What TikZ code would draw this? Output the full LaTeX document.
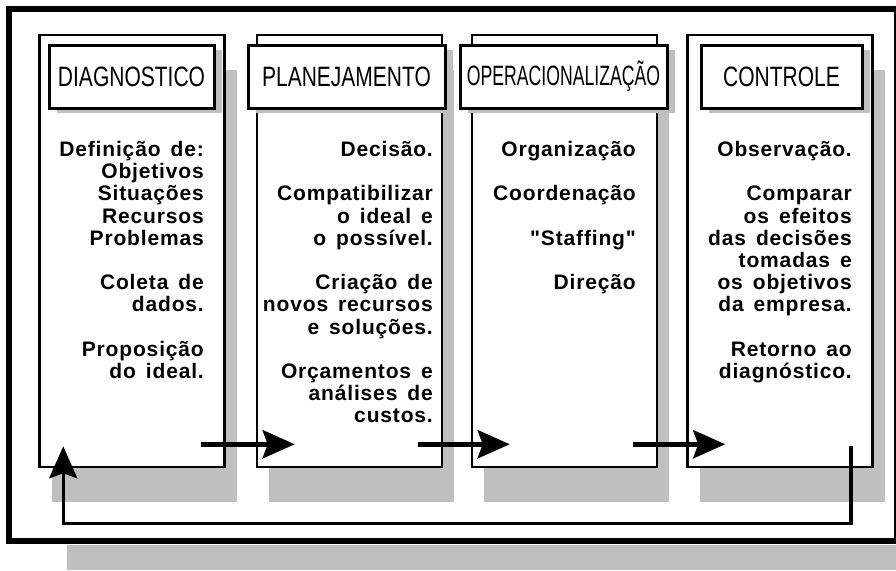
\documentclass[tikz,border=0pt]{standalone}
\usepackage{fontspec}
\setmainfont{Liberation Sans}
\newfontfamily\bodyfont[LetterSpace=4,WordSpace=1.5]{Liberation Sans}
\newfontfamily\headfont[FakeStretch=0.75]{Liberation Sans}
\newfontfamily\headnarrow[FakeStretch=0.63]{Liberation Sans}
\usetikzlibrary{arrows.meta,shadows}
\definecolor{shadegray}{gray}{0.75}

\tikzset{
  column/.style={draw, line width=2.5pt, fill=white, minimum width=185pt,
    minimum height=432pt, inner sep=0pt,
    general shadow={fill=shadegray, shadow xshift=12pt, shadow yshift=-35pt}},
  phase/.style={draw, line width=3pt, fill=white, minimum height=63pt,
    inner sep=0pt, font=\headfont\fontsize{28}{30}\selectfont,
    general shadow={fill=shadegray, shadow xshift=8pt, shadow yshift=-5pt}},
  body/.style={align=right, inner sep=0pt, anchor=north east,
    font=\bodyfont\bfseries\fontsize{21}{22.2}\selectfont},
  flow/.style={line width=5pt, -{Stealth[length=32pt, width=28pt, inset=5pt]}},
  back/.style={line width=3.5pt, -{Stealth[length=32pt, width=28pt, inset=5pt]}}
}

\begin{document}
\begin{tikzpicture}[x=1pt, y=-1pt]

    \useasboundingbox (0,0) rectangle (896,570);

    % Outer frame and its shadow
    \fill[shadegray] (67,545) rectangle (896,570);
    \draw[line width=6pt, fill=white] (8.5,9) rectangle (897,541);

    % Columns
    \node[column] (col1) at (132,251) {};
    \node[column] (col2) at (349.5,251) {};
    \node[column] (col3) at (564.5,251) {};
    \node[column] (col4) at (780,251) {};

    % Phase headers
    \node[phase, minimum width=165pt] (head1) at (131.5,76.5) {DIAGNOSTICO};
    \node[phase, minimum width=197pt] (head2) at (346.5,76.5) {PLANEJAMENTO};
    \node[phase, minimum width=207pt] (head3) at (563.5,76.5) {\headnarrow OPERACIONALIZAÇÃO};
    \node[phase, minimum width=161pt] (head4) at (781.5,76.5) {CONTROLE};

    % Column texts
    \node[body] (txt1) at (204,141) {Definição de:\\Objetivos\\Situações\\Recursos\\Problemas\\[22.2pt]
      Coleta de\\dados.\\[22.2pt]Proposição\\do ideal.};
    \node[body] (txt2) at (433,141) {Decisão.\\[22.2pt]Compatibilizar\\o ideal e\\o possível.\\[22.2pt]
      Criação de\\novos recursos\\e soluções.\\[22.2pt]Orçamentos e\\análises de\\custos.};
    \node[body] (txt3) at (636,141) {Organização\\[22.2pt]Coordenação\\[22.2pt]"Staffing"\\[22.2pt]Direção};
    \node[body] (txt4) at (852,141) {Observação.\\[22.2pt]Comparar\\os efeitos\\das decisões\\tomadas e\\
      os objetivos\\da empresa.\\[22.2pt]Retorno ao\\diagnóstico.};

    % Forward arrows
    \foreach \a/\b in {1/2, 2/3, 3/4} {
      \coordinate (out\a) at ([xshift=-25pt, yshift=24pt]col\a.south east);
      \coordinate (in\b) at ([xshift=39pt, yshift=24pt]col\b.south west);
      \draw[flow] (out\a) -- (in\b);
    }

    % Return to the diagnosis
    \coordinate (ret) at ([xshift=-23pt, yshift=22pt]col4.south east);
    \coordinate (home) at ([xshift=25pt, yshift=22pt]col1.south west);
    \draw[back] (ret) -- ++(0,77) -| (home);

\end{tikzpicture}
\end{document}
